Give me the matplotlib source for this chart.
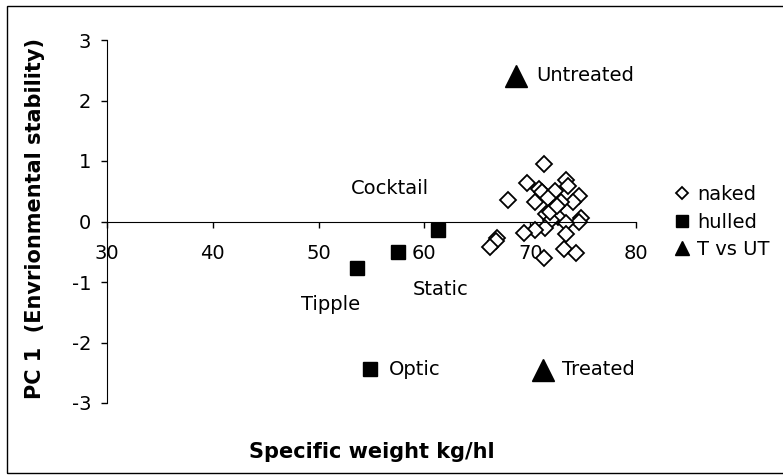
import matplotlib
matplotlib.use('Agg')
import matplotlib.pyplot as plt
from matplotlib.lines import Line2D
from matplotlib.patches import Rectangle

# naked varieties (specific weight, PC1)
naked_x = [71.3, 69.7, 67.9, 73.4, 73.6, 70.8, 71.1, 72.3, 70.5, 71.7, 74.6, 74.0,
           72.9, 72.2, 71.5, 72.6, 72.0, 74.8, 74.6, 73.4, 71.4, 70.5, 69.4, 73.4,
           66.9, 66.8, 66.2, 73.2, 74.3, 71.3, 71.9, 72.5]
naked_y = [0.95, 0.64, 0.36, 0.69, 0.59, 0.53, 0.48, 0.50, 0.33, 0.39, 0.42, 0.33,
           0.32, 0.20, 0.12, 0.08, 0.03, 0.06, -0.01, -0.02, -0.11, -0.14, -0.19, -0.20,
           -0.28, -0.32, -0.42, -0.45, -0.52, -0.61, 0.16, 0.25]

# hulled varieties
hulled_x = [61.3, 57.55, 53.6, 54.9]
hulled_y = [-0.14, -0.50, -0.77, -2.43]

# treated vs untreated
tvu_x = [68.7, 71.2]
tvu_y = [2.41, -2.45]

labels = ['Untreated', 'Cocktail', 'Static', 'Tipple', 'Optic', 'Treated']
label_pos = [(70.55, 2.42, 'left'), (56.75, 0.55, 'center'), (61.5, -1.13, 'center'),
             (51.1, -1.38, 'center'), (56.65, -2.45, 'left'), (73.0, -2.45, 'left')]

plt.rcParams['font.family'] = 'DejaVu Sans'
plt.rcParams['axes.unicode_minus'] = False

fig = plt.figure(figsize=(7.83, 4.75), dpi=100)
ax = fig.add_axes([107 / 783, 1 - 403 / 475, 529 / 783, 363 / 475])

ax.plot(naked_x, naked_y, 'D', ms=8.5, mfc='white', mec='black', mew=1.3)
ax.plot(hulled_x, hulled_y, 's', ms=10.5, color='black')
ax.plot(tvu_x, tvu_y, '^', ms=16, color='black')

for txt, (x, y, ha) in zip(labels, label_pos):
    ax.text(x, y, txt, ha=ha, va='center', fontsize=14)

ax.set_xlim(30, 80)
ax.set_ylim(-3, 3)
ax.set_xticks([30, 40, 50, 60, 70, 80])
ax.set_yticks([-3, -2, -1, 0, 1, 2, 3])
ax.spines['top'].set_visible(False)
ax.spines['right'].set_visible(False)
ax.spines['bottom'].set_position(('data', 0))
ax.tick_params(direction='out', length=4.5, width=1, labelsize=14)
ax.tick_params(axis='x', pad=12)
ax.tick_params(axis='y', pad=7)
ax.set_facecolor('white')

ax.set_xlabel('Specific weight kg/hl', fontsize=15, fontweight='bold')
ax.xaxis.set_label_coords(0.501, -0.107)
ax.set_ylabel('PC 1  (Envrionmental stability)', fontsize=15, fontweight='bold')
ax.yaxis.set_label_coords(-0.117, 0.507)

handles = [Line2D([], [], ls='none', marker='D', ms=6.5, mfc='white', mec='black', mew=1.3),
           Line2D([], [], ls='none', marker='s', ms=8, color='black'),
           Line2D([], [], ls='none', marker='^', ms=10, color='black')]
fig.legend(handles, ['naked', 'hulled', 'T vs UT'], loc='center left',
           bbox_to_anchor=(664 / 783, 1 - 222 / 475), frameon=False, fontsize=14,
           handlelength=0.8, handletextpad=0.4, labelspacing=0.45, borderpad=0)

fig.patches.append(Rectangle((7 / 783, 2 / 475), 1.0, 1 - 8 / 475, transform=fig.transFigure,
                             fill=False, edgecolor='black', lw=1))

fig.savefig('out.png', dpi=100)
